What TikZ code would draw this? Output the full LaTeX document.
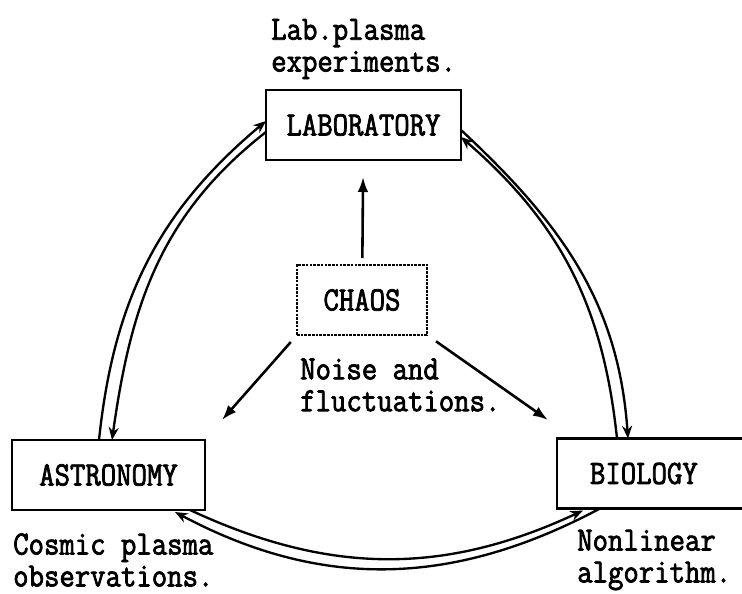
\documentclass[tikz,border=0pt]{standalone}
\usepackage{fontspec}
\newfontfamily\typefont[FakeStretch=0.88,FakeBold=2.2]{Latin Modern Mono}
\usetikzlibrary{arrows.meta,calc}

\begin{document}
\begin{tikzpicture}[x=0.03cm, y=-0.03cm,
  box/.style={draw, line width=2.2pt, minimum height=2.1cm, inner sep=0pt, outer sep=0pt,
    font=\typefont\fontsize{29}{33}\selectfont},
  arr/.style={-{Latex[length=0.45cm, width=0.32cm]}, line width=2.2pt},
  link/.style={-{Stealth[length=0.38cm, width=0.3cm]}, line width=2pt},
  lbl/.style={anchor=west, inner sep=0pt, align=left,
    font=\typefont\fontsize{29}{27.2}\selectfont}
]
  \useasboundingbox (0,0) rectangle (742,594);

  \node[box, minimum width=5.85cm] (lab)   at (363.5,125) {LABORATORY};
  \node[box, minimum width=3.9cm, densely dotted] (chaos) at (362,300) {CHAOS};
  \node[box, minimum width=5.79cm] (astro) at (108.5,475) {ASTRONOMY};
  \node[box, anchor=west, inner xsep=0.99cm, text width=4.5cm, align=left] (bio)
    at (557,473.5) {BIOLOGY};

  \node[lbl] (labtxt)   at (271,49) {Lab.plasma\\experiments.};
  \node[lbl] (noisetxt) at (300,385)  {Noise and\\fluctuations.};
  \node[lbl] (astrotxt) at (13,560)   {Cosmic plasma\\observations.};
  \node[lbl] (biotxt)   at (577,560) {Nonlinear\\algorithm.};

  \coordinate (lefttip)  at (222,420);
  \coordinate (righttip) at (548,420);

  \draw[arr, shorten <=0.21cm, shorten >=0.51cm] (chaos) -- (lab);
  \draw[arr, shorten <=0.28cm] (chaos.south west) -- (lefttip);
  \draw[arr, shorten <=0.33cm] (chaos.south east) -- (righttip);

  % pairs of links between the outer boxes
  \draw[link] ($(astro.north)+(-9.5,0)$) to[out=84, in=220] ($(lab.west)+(0,-4)$);
  \draw[link] ($(lab.west)+(0,7)$) to[out=218, in=82] ($(astro.north)+(3.5,0)$);

  \draw[link] ($(lab.east)+(0,5)$) to[out=-43, in=94] ($(bio.north west)+(71,0)$);
  \draw[link] ($(bio.north west)+(60,0)$) to[out=96, in=-41] ($(lab.east)+(0,12)$);

  \draw[link] ($(astro.south east)+(-15,0)$) to[out=-25, in=205] ($(bio.south west)+(26,2)$);
  \draw[link] ($(bio.south west)+(43,0)$) to[out=208, in=-28] ($(astro.south east)+(-30,2)$);
\end{tikzpicture}
\end{document}
